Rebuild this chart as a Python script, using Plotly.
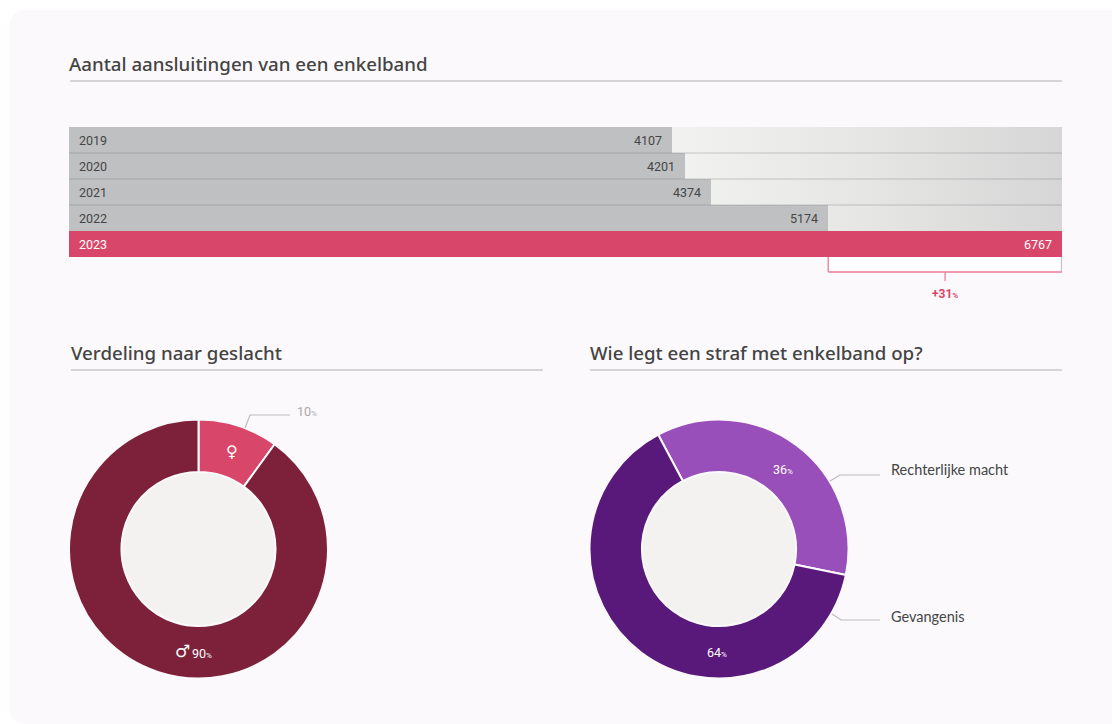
import plotly.graph_objects as go

W, H = 1112, 724

# ---- data ----
years = ["2019", "2020", "2021", "2022", "2023"]
connections = [4107, 4201, 4374, 5174, 6767]
growth_label = "+31"
gender_labels = ["Vrouw", "Man"]
gender_values = [10, 90]
authority_labels = ["Rechterlijke macht", "Gevangenis"]
authority_values = [36, 64]
title_main = "Aantal aansluitingen van een enkelband"
title_gender = "Verdeling naar geslacht"
title_authority = "Wie legt een straf met enkelband op?"

# ---- style ----
FONT = "Lato"
NUM_FONT = "Roboto"
HEAD_FONT = "Noto Sans"
TXT = "#4a4a4a"
HEAD = "#444444"
GREY_BAR = "#bfc0c1"
PINK = "#d8476a"
WINE = "#7c2139"
PURPLE = "#59197a"
LILAC = "#994fba"
HOLE = "#f3f2f0"
CARD = "#fbf9fb"
RULE = "#c9c9cb"
LEAD = "#bdbdbd"


def px(x):
    return x / W


def py(y):
    return 1 - y / H


fig = go.Figure()

max_v = max(connections)
n = len(years)
idx = list(range(n))

# track behind the bars, on the base axes
fig.add_trace(go.Scatter(
    x=[0, max_v, max_v, 0, 0],
    y=[-0.5, -0.5, n - 0.5, n - 0.5, -0.5],
    mode="none", fill="toself", hoverinfo="skip", showlegend=False,
    fillgradient=dict(type="horizontal",
                      colorscale=[[0, "#f6f6f4"], [0.62, "#f1f1ef"], [0.8, "#e6e6e5"], [1, "#d5d6d5"]]),
))
# bars on overlaying axes, so that they sit above the track
fig.add_trace(go.Bar(
    x=connections, y=idx, orientation="h", width=1, xaxis="x2", yaxis="y2",
    marker=dict(color=[GREY_BAR] * (n - 1) + [PINK], line=dict(width=0)),
    showlegend=False, hoverinfo="skip",
))

fig.add_trace(go.Pie(
    labels=gender_labels, values=gender_values, hole=0.595, sort=False,
    direction="clockwise", rotation=0, textinfo="none", showlegend=False,
    marker=dict(colors=[PINK, WINE], line=dict(color=CARD, width=2)),
    domain=dict(x=[px(69), px(328)], y=[py(678.5), py(419.5)]), hoverinfo="skip",
))
fig.add_trace(go.Pie(
    labels=authority_labels, values=authority_values, hole=0.595, sort=False,
    direction="clockwise", rotation=-28, textinfo="none", showlegend=False,
    marker=dict(colors=[LILAC, PURPLE], line=dict(color=CARD, width=2)),
    domain=dict(x=[px(589.5), px(848.5)], y=[py(678.5), py(419.5)]), hoverinfo="skip",
))

shapes = []
# card
shapes.append(dict(type="path", xref="paper", yref="paper", layer="below", line=dict(width=0), fillcolor=CARD,
                   path=f"M {px(10)} {py(26)} Q {px(10)} {py(10)} {px(26)} {py(10)} L {px(1112)} {py(10)} "
                        f"L {px(1112)} {py(724)} L {px(26)} {py(724)} Q {px(10)} {py(724)} {px(10)} {py(708)} Z"))
# donut holes
for cx in (198.5, 719):
    shapes.append(dict(type="circle", xref="paper", yref="paper", layer="below", line=dict(width=0),
                       fillcolor=HOLE, x0=px(cx - 78), x1=px(cx + 78), y0=py(549 + 78), y1=py(549 - 78)))
# title rules
for x0, x1, y in ((70, 1062, 81), (71, 543, 370), (590, 1062, 370)):
    shapes.append(dict(type="line", xref="paper", yref="paper", x0=px(x0), x1=px(x1), y0=py(y), y1=py(y),
                       line=dict(color=RULE, width=1.5)))
# separators between rows
for i in range(n - 2):
    shapes.append(dict(type="line", xref="x", yref="y", x0=0, x1=max_v, y0=i + 0.5, y1=i + 0.5,
                       line=dict(color="rgba(120,120,125,0.38)", width=1)))
# bracket
BR = "#ea7d97"
prev, last = connections[-2], connections[-1]
shapes.append(dict(type="rect", xref="x", yref="paper", x0=prev, x1=last, y0=py(272), y1=py(257),
                   fillcolor="#ffffff", line=dict(width=0)))
for s in (
    dict(x0=prev, x1=prev, y0=py(257), y1=py(272)),
    dict(x0=last, x1=last, y0=py(257), y1=py(272)),
    dict(x0=prev, x1=last, y0=py(272), y1=py(272)),
    dict(x0=(prev + last) / 2, x1=(prev + last) / 2, y0=py(272), y1=py(281)),
):
    shapes.append(dict(type="line", xref="x", yref="paper", line=dict(color=BR, width=1.3), **s))
# leaders
for pts in (
    [(245, 428), (250, 415), (290, 415)],
    [(830, 481), (840, 475), (880, 475)],
    [(832, 614), (841, 620), (880, 620)],
):
    path = "M " + " L ".join(f"{px(a)} {py(b)}" for a, b in pts)
    shapes.append(dict(type="path", xref="paper", yref="paper", path=path, line=dict(color=LEAD, width=1.2)))

ann = []


def note(text, x, y, size=13, color=TXT, anchor="left", family=FONT, weight=400):
    ann.append(dict(text=text, xref="paper", yref="paper", x=px(x), y=py(y), xanchor=anchor, yanchor="middle",
                    showarrow=False, font=dict(family=family, size=size, color=color, weight=weight)))


def pct(v):
    return f"{v}<span style='font-size:8px'>%</span>"


note(title_main, 67, 63.5, 18.7, HEAD, family=HEAD_FONT, weight=500)
note(title_gender, 69, 352.5, 18.7, HEAD, family=HEAD_FONT, weight=500)
note(title_authority, 588, 352.5, 18.7, HEAD, family=HEAD_FONT, weight=500)

for i, (yr, v) in enumerate(zip(years, connections)):
    c = "#ffffff" if i == n - 1 else "#454545"
    ann.append(dict(text=yr, xref="x", yref="y", x=0, y=i, xanchor="left", xshift=8, showarrow=False,
                    font=dict(family=NUM_FONT, size=12.5, color=c)))
    ann.append(dict(text=str(v), xref="x", yref="y", x=v, y=i, xanchor="right", xshift=-8, showarrow=False,
                    font=dict(family=NUM_FONT, size=12.5, color=c)))
ann.append(dict(text=f"<b>{growth_label}<span style='font-size:8px'>%</span></b>", xref="x", yref="paper",
                x=(prev + last) / 2, y=py(294), yanchor="middle", showarrow=False,
                font=dict(family=NUM_FONT, size=12, color=PINK)))

note(pct(gender_values[0]), 295, 411, 12.5, "#a8a8a8", family=NUM_FONT)
note("\u2640", 231.5, 452, 16, "#ffffff", "center", "DejaVu Sans")
note("\u2642", 182, 651, 17, "#ffffff", "center", "DejaVu Sans")
note(pct(gender_values[1]), 190, 653, 12.5, "#ffffff", family=NUM_FONT)
note(pct(authority_values[0]), 783, 470, 12.5, "#ffffff", "center", NUM_FONT)
note(pct(authority_values[1]), 717, 652, 12.5, "#ffffff", "center", NUM_FONT)
note(authority_labels[0], 889, 470, 14.5, "#454545", weight=400)
note(authority_labels[1], 889, 616, 14.5, "#454545", weight=400)

axis_x = dict(domain=[px(69), px(1062)], range=[0, max_v], visible=False, fixedrange=True)
axis_y = dict(domain=[py(257), py(127)], range=[n - 0.5, -0.5], visible=False, fixedrange=True)
fig.update_layout(
    width=W, height=H, autosize=False, margin=dict(l=0, r=0, t=0, b=0),
    paper_bgcolor="#ffffff", plot_bgcolor="rgba(0,0,0,0)", barmode="overlay", bargap=0,
    xaxis=axis_x, yaxis=axis_y,
    xaxis2=dict(axis_x, overlaying="x", anchor="y2"),
    yaxis2=dict(axis_y, overlaying="y", anchor="x2"),
    shapes=shapes, annotations=ann,
)

fig.write_html("out.html", config=dict(displayModeBar=False),
               post_script="document.body.style.margin='0';document.body.style.overflow='hidden';")
